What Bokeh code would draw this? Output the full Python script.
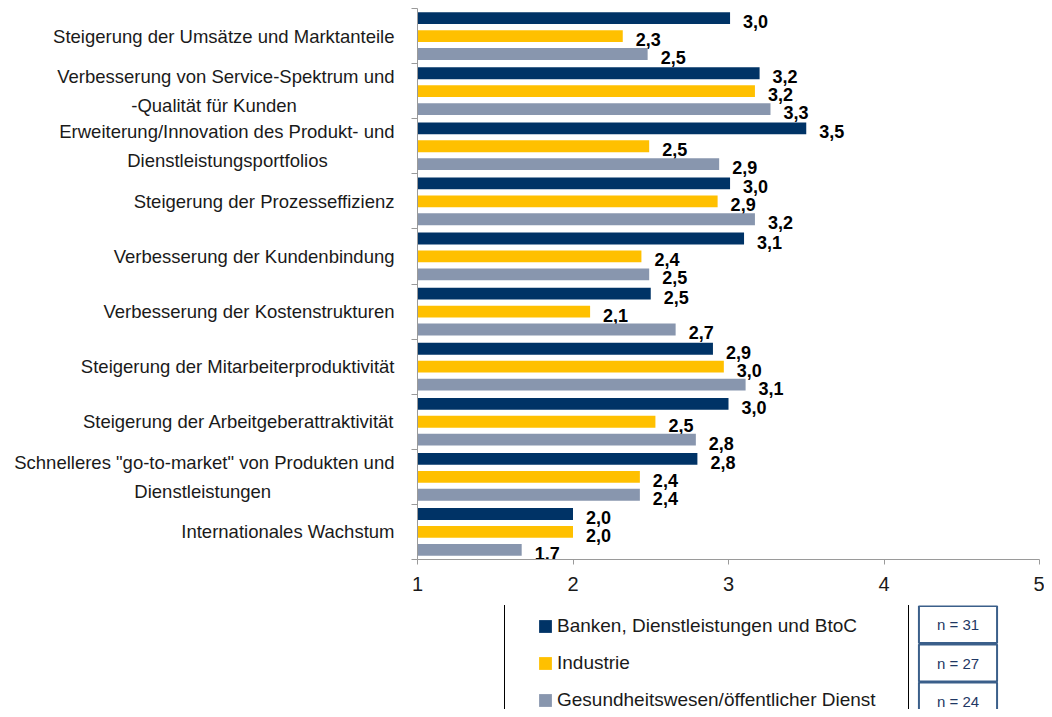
from bokeh.plotting import figure
from bokeh.layouts import column
from bokeh.models import ColumnDataSource, FixedTicker, Legend, LegendItem, Label, Range1d
from bokeh.core.properties import value
from bokeh.embed import file_html
from bokeh.resources import INLINE

# ---------------- data ----------------
categories = [
    "Steigerung der Umsätze und Marktanteile",
    "Verbesserung von Service-Spektrum und\n-Qualität für Kunden",
    "Erweiterung/Innovation des Produkt- und\nDienstleistungsportfolios",
    "Steigerung der Prozesseffizienz",
    "Verbesserung der Kundenbindung",
    "Verbesserung der Kostenstrukturen",
    "Steigerung der Mitarbeiterproduktivität",
    "Steigerung der Arbeitgeberattraktivität",
    "Schnelleres \"go-to-market\" von Produkten und\nDienstleistungen",
    "Internationales Wachstum",
]
banken = [3.01, 3.20, 3.50, 3.01, 3.10, 2.50, 2.90, 3.00, 2.80, 2.00]
industrie = [2.32, 3.17, 2.49, 2.93, 2.44, 2.11, 2.97, 2.53, 2.43, 2.00]
gesundheit = [2.48, 3.27, 2.94, 3.17, 2.49, 2.66, 3.11, 2.79, 2.43, 1.67]
series_names = [
    "Banken, Dienstleistungen und BtoC",
    "Industrie",
    "Gesundheitswesen/öffentlicher Dienst",
]
sample_sizes = ["n = 31", "n = 27", "n = 24"]
x_ticks = [1, 2, 3, 4, 5]

# ---------------- style ----------------
colors = ["#003366", "#FFC000", "#8896AE"]
offsets = [0.325, 0.0, -0.325]
FONT = "Liberation Sans"
NBSP = "\u00a0"
# trailing non-breaking spaces that centre the second line of a two-line label
second_line_pad = {1: 19, 2: 13, 8: 24}

n = len(categories)
centers = [n - 1 - i for i in range(n)]


def label_text(i, lab):
    if "\n" in lab:
        a, b = lab.split("\n")
        return a + "\n" + b + NBSP * second_line_pad.get(i, 0)
    return lab


W = 1044
LEFT = 417
RIGHT = 5
p = figure(
    width=W, height=605,
    x_range=Range1d(1, 5), y_range=Range1d(-0.5, n - 0.5),
    output_backend="svg", toolbar_location=None,
    min_border_left=LEFT, min_border_right=RIGHT, min_border_top=8, min_border_bottom=46,
)
p.outline_line_color = None
p.xgrid.grid_line_color = None
p.ygrid.grid_line_color = None

sources = []
for vals, col, off in zip([banken, industrie, gesundheit], colors, offsets):
    src = ColumnDataSource(dict(
        y=[c + off for c in centers],
        left=[x_ticks[0]] * n,
        right=vals,
        label=[("%.1f" % v).replace(".", ",") for v in vals],
    ))
    sources.append(src)
    p.hbar(y="y", left="left", right="right", height=0.215, source=src,
           fill_color=col, line_color=None)
    p.text(x="right", y="y", text="label", source=src, x_offset=13, y_offset=3.5,
           text_font=value(FONT), text_font_style="bold", text_font_size="18px",
           text_baseline="middle", text_align="left", text_color="black")

axis_gray = "#9a9a9a"
xa = p.xaxis[0]
xa.ticker = FixedTicker(ticks=x_ticks, minor_ticks=[])
xa.axis_line_color = axis_gray
xa.major_tick_line_color = axis_gray
xa.major_tick_out = 5
xa.major_tick_in = 0
xa.minor_tick_line_color = None
xa.major_label_standoff = 12
xa.major_label_text_font = FONT
xa.major_label_text_font_size = "20px"
xa.major_label_text_color = "#1a1a1a"

ya = p.yaxis[0]
ya.ticker = FixedTicker(ticks=centers, minor_ticks=[c - 0.5 for c in range(n + 1)])
ya.major_label_overrides = {c: label_text(i, lab) for i, (c, lab) in enumerate(zip(centers, categories))}
ya.axis_line_color = axis_gray
ya.major_tick_line_color = None
ya.major_tick_out = 0
ya.major_tick_in = 0
ya.minor_tick_line_color = axis_gray
ya.minor_tick_out = 6
ya.minor_tick_in = 0
ya.major_label_standoff = 17
ya.major_label_text_font = FONT
ya.major_label_text_font_size = "18.5px"
ya.major_label_text_line_height = 1.4
ya.major_label_text_color = "#1a1a1a"

# ---------------- legend strip ----------------
H2 = 104
p2 = figure(
    width=W, height=H2, x_range=Range1d(-200, -199), y_range=Range1d(500, 501),
    output_backend="svg", toolbar_location=None,
    min_border_left=LEFT, min_border_right=RIGHT, min_border_top=0, min_border_bottom=0,
)
p2.axis.visible = False
p2.grid.visible = False
p2.outline_line_color = None

legend_renderers = []
for col, src in zip(colors, sources):
    # same data as the bars; far outside this strip's ranges, used only as legend swatches
    legend_renderers.append(p2.hbar(y="y", left="left", right="right", height=0.215,
                                    source=src, fill_color=col, line_color=None))

legend = Legend(
    items=[LegendItem(label=nm, renderers=[r]) for nm, r in zip(series_names, legend_renderers)],
    location=(504 - LEFT, H2 - 1 - 116), orientation="vertical",
    glyph_width=16, glyph_height=16, label_standoff=4,
    label_width=0, label_height=22, spacing=15,
    border_line_color="black", border_line_width=1, border_line_alpha=1,
    background_fill_color="white", background_fill_alpha=1,
    label_text_font=FONT, label_text_font_size="19px", label_text_color="#1a1a1a",
    margin=0,
)
try:
    legend.padding = dict(left=32, right=32, top=10, bottom=10)
except Exception:
    legend.padding = 10
p2.add_layout(legend, "center")

box_y = [85, 46.5, 8.5]
for txt, yy in zip(sample_sizes, box_y):
    lab = Label(x=957.5 - LEFT, y=yy, x_units="screen", y_units="screen", text=txt,
                text_align="center", text_baseline="middle",
                text_font=FONT, text_font_size="15px", text_color="#1F3864",
                border_line_color="#3B5F8A", border_line_width=2,
                background_fill_color="white")
    try:
        lab.padding = dict(left=18, right=18, top=10, bottom=10)
    except Exception:
        lab.padding = 10
    p2.add_layout(lab)

layout = column(p, p2, spacing=0)
open("out.html", "w").write(file_html(layout, INLINE))
